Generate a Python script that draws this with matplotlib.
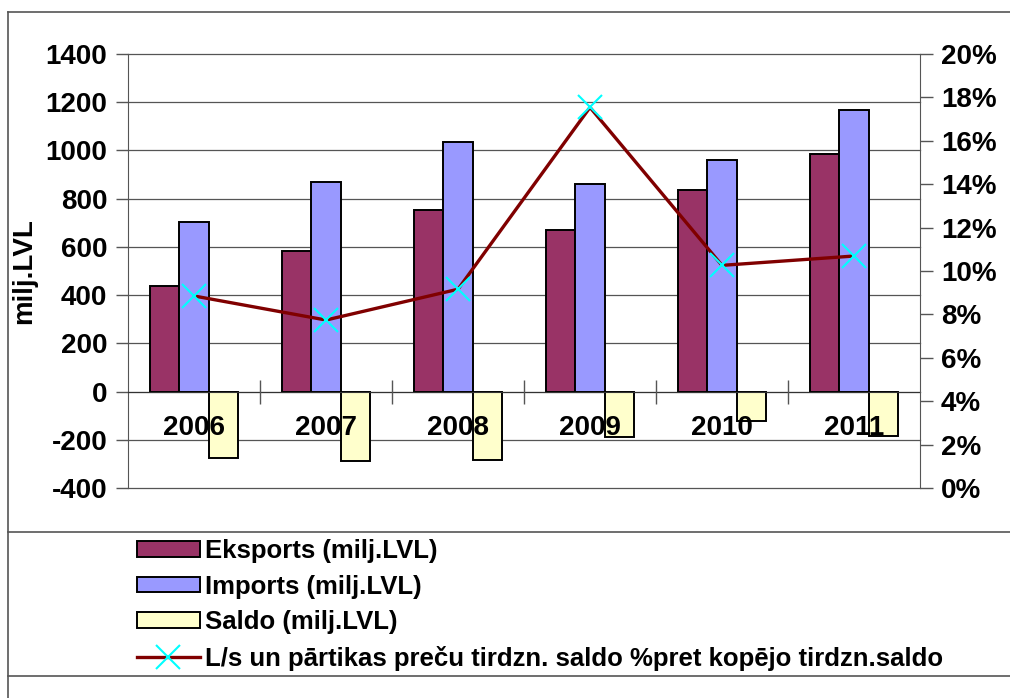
import matplotlib.pyplot as plt
from matplotlib.lines import Line2D
from matplotlib.ticker import FuncFormatter

# data
years = ['2006', '2007', '2008', '2009', '2010', '2011']
eksports = [438, 581, 753, 671, 835, 986]
imports = [702, 870, 1034, 861, 961, 1168]
saldo = [-274, -290, -283, -189, -124, -184]
saldo_pct = [8.85, 7.74, 9.16, 17.54, 10.26, 10.69]

plt.rcParams['font.family'] = ['Liberation Sans', 'DejaVu Sans']
plt.rcParams['font.weight'] = 'bold'
plt.rcParams['axes.unicode_minus'] = False

W, H = 1010, 698
fig = plt.figure(figsize=(W / 100, H / 100), dpi=100)
ax = fig.add_axes([128 / W, 1 - 488 / H, (920 - 128) / W, (488 - 54) / H])
ax2 = ax.twinx()

x = list(range(len(years)))
w = 0.223
ax.bar([i - w for i in x], eksports, w, color='#993366', edgecolor='black', lw=1.4,
       label='Eksports (milj.LVL)')
ax.bar(x, imports, w, color='#9999FF', edgecolor='black', lw=1.4,
       label='Imports (milj.LVL)')
ax.bar([i + w for i in x], saldo, w, color='#FFFFCC', edgecolor='black', lw=1.4,
       label='Saldo (milj.LVL)')

ax2.plot(x, [v / 100 for v in saldo_pct], color='#800000', lw=2.4,
         marker='x', ms=17, mec='#00FFFF', mew=1.5,
         label='L/s un pārtikas preču tirdzn. saldo %pret kopējo tirdzn.saldo')

# left axis
ax.set_xlim(-0.5, 5.5)
ax.set_ylim(-400, 1400)
ax.set_yticks(range(-400, 1401, 200))
ax.set_axisbelow(True)
ax.yaxis.grid(True, color='#555555', lw=0.9)
for gl in ax.get_ygridlines():
    gl.set_clip_on(False)
ax.tick_params(axis='y', labelsize=20, length=9, width=1, color='#555555', pad=6)
ax.set_ylabel('milj.LVL', fontsize=20, fontweight='bold', labelpad=6)

# category axis at zero, drawn above the bars
ax.xaxis.set_zorder(3)
ax.spines['bottom'].set_position(('data', 0))
ax.spines['bottom'].set_color('#333333')
ax.spines['top'].set_visible(False)
ax.spines['left'].set_color('#555555')
ax.spines['right'].set_visible(False)
ax.set_xticks([0.5, 1.5, 2.5, 3.5, 4.5])
ax.set_xticklabels([])
ax.tick_params(axis='x', which='major', direction='inout', length=17, width=1, color='#555555')
ax.set_xticks(x, minor=True)
ax.set_xticklabels(years, minor=True)
ax.tick_params(axis='x', which='minor', length=0, labelsize=20, pad=17)

# right axis
ax2.set_ylim(0, 0.2)
ax2.set_yticks([i / 100 for i in range(0, 21, 2)])
ax2.yaxis.set_major_formatter(FuncFormatter(lambda v, p: f'{round(v * 100)}%'))
ax2.tick_params(axis='y', labelsize=20, length=9, width=1, color='#555555', pad=6)
for s in ['top', 'bottom', 'left']:
    ax2.spines[s].set_visible(False)
ax2.spines['right'].set_color('#555555')

# outer frame lines
for xs, ys in [([8 / W, 8 / W], [0, 1 - 12 / H]),
               ([8 / W, 1], [1 - 12 / H, 1 - 12 / H]),
               ([8 / W, 1], [1 - 532 / H, 1 - 532 / H]),
               ([8 / W, 1], [1 - 676 / H, 1 - 676 / H])]:
    fig.add_artist(Line2D(xs, ys, transform=fig.transFigure, color='#555555', lw=1.2))

h1, l1 = ax.get_legend_handles_labels()
h2, l2 = ax2.get_legend_handles_labels()
fig.legend(h1 + h2, l1 + l2, loc='upper left', bbox_to_anchor=(137 / W, 1 - 539 / H),
           frameon=False, borderpad=0, borderaxespad=0,
           handlelength=2.45, handleheight=0.55, handletextpad=0.2, labelspacing=0.45,
           prop={'weight': 'bold', 'size': 18.5})

fig.savefig('out.png', dpi=100)
